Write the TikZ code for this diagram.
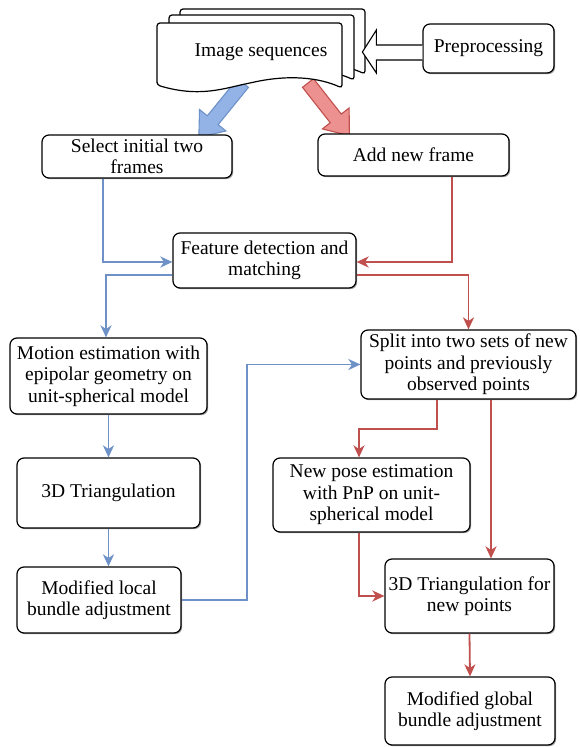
\documentclass[tikz,border=0pt]{standalone}
\usepackage{fontspec}
\setmainfont{Liberation Serif}
\newfontfamily\tnr{Liberation Serif}
\usetikzlibrary{arrows.meta,shadows,calc}
\definecolor{lnblue}{HTML}{6E92C8}
\definecolor{lnred}{HTML}{C0504D}
\definecolor{fillblue}{HTML}{93B3E6}
\definecolor{fillred}{HTML}{EC918F}
\begin{document}
\begin{tikzpicture}[x=1pt,y=-1pt,
  txt/.style={font=\tnr\fontsize{19.5}{21.5}\selectfont, align=center},
  box/.style={txt, draw=black, line width=1.2pt, rounded corners=7pt, fill=white, inner sep=0pt,
    drop shadow={shadow xshift=1.2pt, shadow yshift=-1.2pt, fill=black!55, opacity=0.7}},
  tipst/.style={-{Stealth[length=12pt,width=11pt,inset=3.5pt]}},
  bl/.style={draw=lnblue, line width=1.8pt, tipst},
  rd/.style={draw=lnred, line width=1.8pt, tipst},
  docl/.style={draw=black, line width=1.2pt, fill=white, rounded corners=3pt},
  bigarrow/.style={line width=1.1pt}
]
\useasboundingbox (0,0) rectangle (580,747);

% big block arrows from the image stack
\begin{scope}[shift={(243,83)}, rotate=230.9]
  \draw[bigarrow, draw=lnblue, fill=fillblue] (0,-7) -- (48,-7) -- (48,-17) -- (70,0) -- (48,17) -- (48,7) -- (0,7) -- cycle;
\end{scope}
\begin{scope}[shift={(308,83)}, rotate=-51.9]
  \draw[bigarrow, draw=lnred, fill=fillred] (0,-7) -- (45,-7) -- (45,-17) -- (67,0) -- (45,17) -- (45,7) -- (0,7) -- cycle;
\end{scope}

% stacked documents
\foreach \dx/\dy in {23/-14, 12/-8, 0/0} {
  \draw[docl, shift={(\dx,\dy)}] (157,85) -- (157,23) -- (342,23) -- (342,88)
    .. controls (320,78) and (290,74) .. (250,83)
    .. controls (225,88) and (200,98) .. (157,85) -- cycle;
}
\node[txt] (imgs) at (261,52) {Image sequences};

% nodes
\node[box, minimum width=131pt, minimum height=49pt] (pre) at (488.5,48.5) {Preprocessing};
\node[box, minimum width=190pt, minimum height=43pt] (sel) at (137,156.5) {Select initial two\\frames};
\node[box, minimum width=191pt, minimum height=42pt] (add) at (413.5,155) {Add new frame};
\node[box, minimum width=183pt, minimum height=55pt] (feat) at (264.5,260.5) {Feature detection and\\matching};
\node[box, minimum width=197pt, minimum height=76pt] (mot) at (108.5,376) {Motion estimation with\\epipolar geometry on\\unit-spherical model};
\node[box, minimum width=215pt, minimum height=69pt] (split) at (468.5,364.5) {Split into two sets of new\\points and previously\\observed points};
\node[box, minimum width=183pt, minimum height=70pt] (tri) at (108.5,493) {3D Triangulation};
\node[box, minimum width=164pt, minimum height=66pt] (mod) at (99,600) {Modified local\\bundle adjustment};
\node[box, minimum width=197pt, minimum height=74pt] (pose) at (371.5,495) {New pose estimation\\with PnP on unit-\\spherical model};
\node[box, minimum width=169pt, minimum height=74pt] (trin) at (469.5,596) {3D Triangulation for\\new points};
\node[box, minimum width=170pt, minimum height=68pt] (glob) at (470,711) {Modified global\\bundle adjustment};

% hollow arrow from preprocessing to the image stack
\begin{scope}[shift={(pre.west)}]
  \draw[line width=1.1pt, fill=white] (0,-3.5) -- (-46,-3.5) -- (-46,-18.5) -- (-60,3.5) -- (-46,24.5) -- (-46,11.5) -- (0,11.5);
\end{scope}

% connectors
\draw[bl] ([xshift=-34pt]sel.south) |- ([yshift=-1.5pt]feat.west);
\draw[rd] ([xshift=38.5pt]add.south) |- ([yshift=-1.5pt]feat.east);
\draw[bl] ([yshift=-14.5pt]feat.west) -| ([xshift=-2.5pt]mot.north);
\draw[rd] ([yshift=-14.5pt]feat.east) -| (split.north);
\draw[bl] (mot.south) -- (tri.north);
\draw[bl] (tri.south) -- (tri.south |- mod.north);
\draw[bl] (mod.east) -- ++(65,0) |- (split.west);
\draw[rd] ([xshift=-31.5pt]split.south) -- ++(0,29) -| ([xshift=-12.5pt]pose.north);
\draw[rd] ([xshift=22.5pt]split.south) -- ([xshift=21.5pt]trin.north);
\draw[rd] ([xshift=-12.5pt]pose.south) |- (trin.west);
\draw[rd] (trin.south) -- (glob.north);
\end{tikzpicture}
\end{document}
